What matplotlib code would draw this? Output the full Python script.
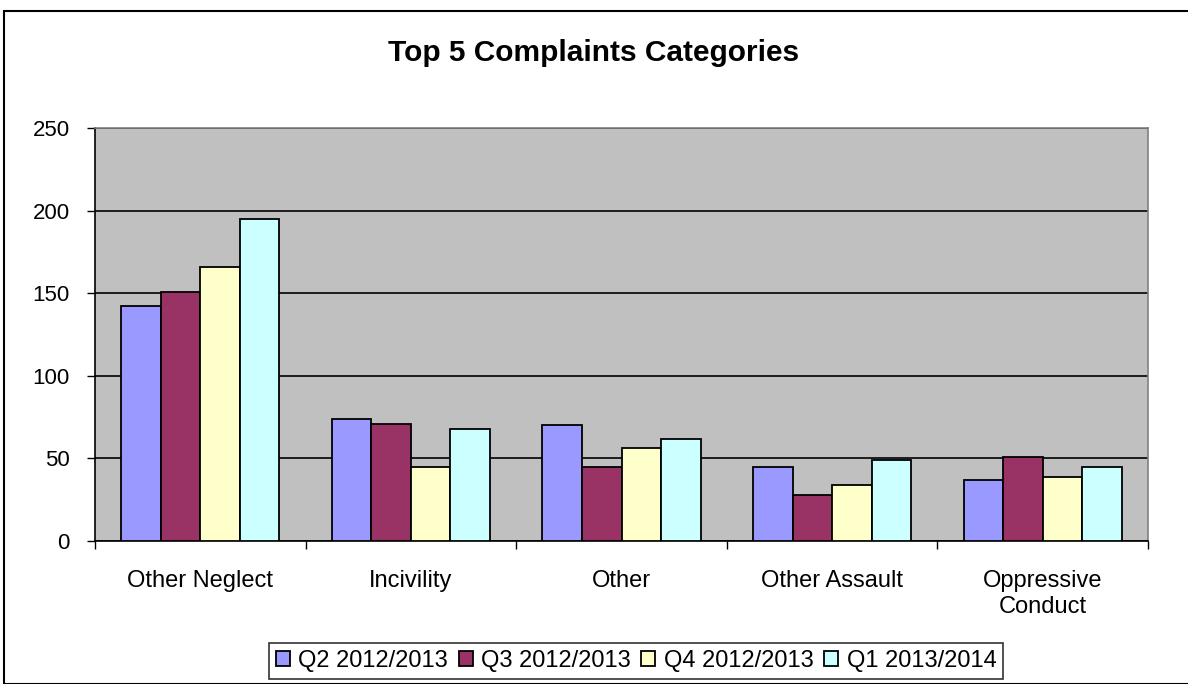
import numpy as np
import matplotlib.pyplot as plt
from matplotlib.patches import Rectangle

plt.rcParams['font.family'] = ['Liberation Sans', 'DejaVu Sans']

categories = ['Other Neglect', 'Incivility', 'Other', 'Other Assault', 'Oppressive\nConduct']
series_names = ['Q2 2012/2013', 'Q3 2012/2013', 'Q4 2012/2013', 'Q1 2013/2014']
q2_1213 = [142, 74, 70, 45, 37]
q3_1213 = [151, 71, 45, 28, 51]
q4_1213 = [166, 45, 56, 34, 39]
q1_1314 = [195, 68, 62, 49, 45]
colors = ['#9999FF', '#993366', '#FFFFCC', '#CCFFFF']

W, H = 1188, 684
fig = plt.figure(figsize=(W / 100, H / 100), dpi=100)

# outer chart border
fig.patches.append(Rectangle((4 / W, 0), 1.2, (H - 11) / H, transform=fig.transFigure,
                             fill=False, edgecolor='black', linewidth=1.5))

ax = fig.add_axes([95 / W, 1 - 541 / H, (1148 - 95) / W, (541 - 128) / H])
ax.set_facecolor('#C0C0C0')

x = np.arange(len(categories))
width = 0.188
for i, (vals, c, name) in enumerate(zip([q2_1213, q3_1213, q4_1213, q1_1314], colors, series_names)):
    ax.bar(x + (i - 1.5) * width, vals, width, color=c, edgecolor='black',
           linewidth=1.3, label=name, zorder=3)

ax.set_xlim(-0.5, len(categories) - 0.5)
ax.set_ylim(0, 250)
ax.set_yticks(range(0, 251, 50))
ax.yaxis.grid(True, color='black', linewidth=1.2, zorder=1)
ax.set_axisbelow(True)

ax.set_xticks(np.arange(-0.5, len(categories), 1))
ax.set_xticklabels([])
ax.set_xticks(x, minor=True)
ax.set_xticklabels(categories, minor=True, fontsize=17, linespacing=1.25)
ax.tick_params(axis='x', which='minor', length=0, pad=21)
ax.tick_params(axis='x', which='major', length=6, width=1, direction='out')
ax.tick_params(axis='y', length=6, width=1, direction='out', labelsize=16, pad=12)

for s in ['left', 'bottom']:
    ax.spines[s].set_linewidth(1.2)
    ax.spines[s].set_color('black')
for s in ['top', 'right']:
    ax.spines[s].set_color('#808080')
    ax.spines[s].set_linewidth(1.2)

fig.text(0.5, 1 - 53 / H, 'Top 5 Complaints Categories', ha='center', va='center',
         fontsize=21.5, fontweight='bold')

leg = fig.legend(loc='center', bbox_to_anchor=(636 / W, 1 - 661 / H), ncol=4,
                 fontsize=17, frameon=True, fancybox=False, edgecolor='black',
                 handlelength=0.6, handleheight=0.6, handletextpad=0.35,
                 columnspacing=0.45, borderpad=0.3)
leg.get_frame().set_linewidth(1.2)

fig.savefig('out.png', dpi=100)
